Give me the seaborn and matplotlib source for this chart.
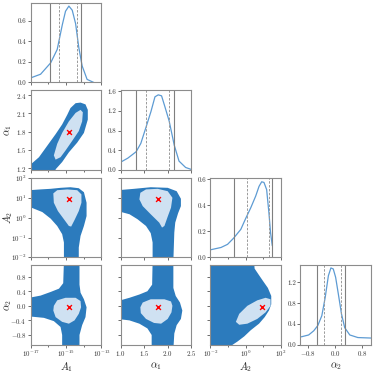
import numpy as np
import seaborn as sns
import matplotlib
matplotlib.use("Agg")
from matplotlib import pyplot as plt
from matplotlib import ticker

sns.set_style("ticks")
plt.rcParams.update({
    'font.family': 'serif',
    'font.serif': ['cmr10', 'DejaVu Serif'],
    'mathtext.fontset': 'cm',
    'axes.formatter.use_mathtext': True,
    'font.size': 5.5,
})

# parameter names and axis ranges (log10 for A1, A2)
labels = [r'$A_1$', r'$\alpha_1$', r'$A_2$', r'$\alpha_2$']
is_log = [True, False, True, False]
x_lims = [(-17, -13), (1.0, 2.5), (-2, 2), (-1.03, 1.07)]
row_lims = [None, (1.17, 2.48), (-2, 2), (-1.07, 1.11)]

# best fit (red cross)
best = [-14.84, 1.80, 0.92, -0.04]

# 1D marginals
a1_x = [-16.96, -16.44, -15.87, -15.50, -15.21, -15.03, -14.84, -14.65, -14.46, -14.28, -14.09, -13.81, -13.43]
a1_y = [0.047, 0.08, 0.19, 0.32, 0.56, 0.69, 0.74, 0.70, 0.57, 0.34, 0.16, 0.03, 0.0]
al1_x = [1.0, 1.154, 1.33, 1.43, 1.54, 1.645, 1.73, 1.80, 1.87, 1.94, 2.03, 2.14, 2.24, 2.38, 2.5]
al1_y = [0.157, 0.24, 0.37, 0.54, 0.87, 1.19, 1.49, 1.53, 1.51, 1.29, 1.0, 0.50, 0.18, 0.05, 0.01]
a2_x = [-2.0, -1.40, -1.03, -0.69, -0.28, 0.0, 0.28, 0.56, 0.75, 0.90, 1.03, 1.18, 1.31, 1.40, 1.50]
a2_y = [0.058, 0.076, 0.10, 0.147, 0.215, 0.30, 0.38, 0.47, 0.545, 0.58, 0.575, 0.52, 0.34, 0.19, 0.089]
al2_x = [-1.0, -0.78, -0.63, -0.51, -0.39, -0.29, -0.195, -0.12, -0.05, 0.02, 0.10, 0.195, 0.29, 0.44, 0.68, 1.09]
al2_y = [0.154, 0.19, 0.27, 0.37, 0.56, 0.91, 1.33, 1.48, 1.46, 1.30, 0.98, 0.59, 0.33, 0.19, 0.14, 0.13]
diag_ylim = [0.77, 1.62, 0.61, 1.53]
diag_yticks = [[0.0, 0.2, 0.4, 0.6], [0.0, 0.4, 0.8, 1.2, 1.6], [0.0, 0.2, 0.4, 0.6], [0.0, 0.4, 0.8, 1.2]]
# interval lines: outer (solid), inner (dashed)
outer_lines = [(-15.91, -14.13), (1.336, 2.13), (-0.69, 1.46), (-0.54, 0.29)]
inner_lines = [(-15.40, -14.37), (1.54, 2.02), (0.09, 1.33), (-0.32, 0.17)]

# 2D regions, (x, y) boundaries
a1_al1_outer = [(-17.04, 1.11), (-15.59, 1.11), (-15.59, 1.18), (-15.22, 1.30), (-14.84, 1.46), (-14.37, 1.62),
                (-13.99, 1.78), (-13.77, 2.00), (-13.77, 2.16), (-13.90, 2.25), (-14.18, 2.28), (-14.46, 2.27),
                (-14.75, 2.19), (-14.93, 2.08), (-15.22, 1.92), (-15.59, 1.76), (-16.06, 1.57), (-16.53, 1.38),
                (-17.04, 1.25)]
a1_al1_inner = [(-15.59, 1.34), (-15.69, 1.41), (-15.50, 1.60), (-15.22, 1.78), (-14.84, 1.97), (-14.46, 2.11),
                (-14.18, 2.16), (-14.05, 2.12), (-14.09, 1.97), (-14.28, 1.81), (-14.65, 1.65), (-15.03, 1.49),
                (-15.31, 1.38)]
a1_a2_outer = [(-17.09, 1.38), (-16.44, 1.42), (-15.87, 1.45), (-15.31, 1.50), (-14.75, 1.53), (-14.28, 1.48),
               (-13.99, 1.28), (-13.84, 0.75), (-13.84, 0.08), (-13.99, -0.42), (-14.18, -0.92), (-14.28, -1.50),
               (-14.28, -2.17), (-15.12, -2.17), (-15.12, -1.25), (-15.22, -0.83), (-15.50, -0.42),
               (-15.87, -0.05), (-16.34, 0.28), (-17.09, 0.55)]
a1_a2_inner = [(-15.72, 1.22), (-15.50, 1.38), (-14.93, 1.42), (-14.37, 1.38), (-14.13, 1.17), (-14.13, 0.75),
               (-14.28, 0.33), (-14.52, -0.12), (-14.71, -0.45), (-14.84, -0.42), (-15.12, -0.08),
               (-15.46, 0.33), (-15.69, 0.75)]
a1_al2_outer = [(-15.12, 1.20), (-14.24, 1.20), (-14.24, 0.58), (-14.18, 0.36), (-13.99, 0.18), (-13.84, -0.04),
                (-13.90, -0.31), (-14.09, -0.53), (-14.24, -0.80), (-14.24, -1.20), (-15.22, -1.20),
                (-15.22, -0.80), (-15.31, -0.58), (-15.69, -0.42), (-16.25, -0.33), (-17.09, -0.29),
                (-17.09, 0.22), (-16.44, 0.28), (-15.87, 0.38), (-15.40, 0.47), (-15.16, 0.62)]
a1_al2_inner = [(-15.69, 0.0), (-15.50, 0.15), (-15.03, 0.22), (-14.46, 0.22), (-14.18, 0.13), (-14.15, -0.04),
                (-14.28, -0.22), (-14.52, -0.40), (-14.84, -0.49), (-15.22, -0.44), (-15.59, -0.31),
                (-15.72, -0.13)]
al1_a2_outer = [(0.94, 1.38), (1.29, 1.45), (1.64, 1.53), (2.00, 1.50), (2.19, 1.33), (2.28, 0.95), (2.28, 0.58),
                (2.22, 0.22), (2.16, -0.25), (2.14, -0.75), (2.12, -2.17), (1.68, -2.17), (1.68, -1.25),
                (1.64, -0.78), (1.54, -0.42), (1.36, -0.08), (1.19, 0.17), (0.94, 0.33)]
al1_a2_inner = [(1.42, 1.25), (1.54, 1.42), (1.79, 1.45), (2.00, 1.33), (2.10, 1.0), (2.07, 0.50), (2.00, 0.05),
                (1.93, -0.42), (1.88, -0.50), (1.82, -0.25), (1.64, 0.17), (1.47, 0.58), (1.40, 0.92)]
al1_al2_outer = [(1.68, 1.20), (2.12, 1.20), (2.12, 0.49), (2.17, 0.27), (2.26, 0.09), (2.31, -0.13),
                 (2.28, -0.36), (2.19, -0.53), (2.14, -0.76), (2.12, -1.20), (1.66, -1.20), (1.66, -0.80),
                 (1.57, -0.62), (1.40, -0.49), (1.19, -0.40), (0.94, -0.36), (0.94, 0.13), (1.19, 0.22),
                 (1.40, 0.31), (1.57, 0.40), (1.67, 0.58)]
al1_al2_inner = [(1.42, -0.04), (1.47, 0.09), (1.64, 0.18), (1.93, 0.18), (2.07, 0.12), (2.10, 0.0),
                 (2.08, -0.18), (2.00, -0.36), (1.86, -0.49), (1.71, -0.47), (1.54, -0.36), (1.43, -0.20)]
a2_al2_outer = [(-2.15, 1.20), (0.47, 1.20), (0.50, 1.02), (0.75, 0.84), (0.99, 0.67), (1.25, 0.49),
                (1.44, 0.27), (1.44, 0.04), (1.31, -0.13), (1.07, -0.31), (0.75, -0.49), (0.28, -0.67),
                (-0.09, -0.84), (-0.47, -0.98), (-0.75, -1.07), (-0.75, -1.20), (-2.15, -1.20)]
a2_al2_inner = [(-0.56, -0.44), (-0.37, -0.22), (0.09, 0.0), (0.65, 0.15), (1.12, 0.22), (1.40, 0.18),
                (1.40, 0.0), (1.12, -0.18), (0.65, -0.36), (0.09, -0.49), (-0.37, -0.52)]

regions = {(1, 0): (a1_al1_outer, a1_al1_inner), (2, 0): (a1_a2_outer, a1_a2_inner),
           (3, 0): (a1_al2_outer, a1_al2_inner), (2, 1): (al1_a2_outer, al1_a2_inner),
           (3, 1): (al1_al2_outer, al1_al2_inner), (3, 2): (a2_al2_outer, a2_al2_inner)}
diag = [(a1_x, a1_y), (al1_x, al1_y), (a2_x, a2_y), (al2_x, al2_y)]

dark = '#2c7bbd'
light = '#cfe1f2'
line_col = '#5d9bd3'
spine_col = '#8c8c8c'


def val(v, log):
    return 10.0 ** np.asarray(v) if log else np.asarray(v)


def set_ticks(ax, axis, i):
    set_scale = ax.set_xscale if axis == 'x' else ax.set_yscale
    a = ax.xaxis if axis == 'x' else ax.yaxis
    if i == 0:
        set_scale('log')
        a.set_major_locator(ticker.FixedLocator([1e-17, 1e-15, 1e-13]))
        a.set_minor_locator(ticker.FixedLocator([1e-16, 1e-14]))
    elif i == 2:
        set_scale('log')
        if axis == 'x':
            a.set_major_locator(ticker.FixedLocator([1e-2, 1e0, 1e2]))
            a.set_minor_locator(ticker.FixedLocator([1e-1, 1e1]))
        else:
            a.set_major_locator(ticker.FixedLocator([1e-2, 1e-1, 1e0, 1e1, 1e2]))
            a.set_minor_locator(ticker.NullLocator())
    elif i == 1:
        if axis == 'x':
            a.set_major_locator(ticker.FixedLocator([1.0, 1.5, 2.0, 2.5]))
        else:
            a.set_major_locator(ticker.FixedLocator([1.2, 1.5, 1.8, 2.1, 2.4]))
    else:
        if axis == 'x':
            a.set_major_locator(ticker.FixedLocator([-0.8, 0.0, 0.8]))
        else:
            a.set_major_locator(ticker.FixedLocator([-0.8, -0.4, 0.0, 0.4, 0.8]))
    a.set_minor_formatter(ticker.NullFormatter())


fig, axes = plt.subplots(4, 4, figsize=(3.74, 3.74), dpi=100)
fig.subplots_adjust(left=0.082, right=0.992, bottom=0.078, top=0.992, wspace=0.27, hspace=0.1)

for r in range(4):
    for c in range(4):
        ax = axes[r, c]
        if c > r:
            ax.axis('off')
            continue
        for s in ax.spines.values():
            s.set_color(spine_col)
            s.set_linewidth(0.8)
        ax.tick_params(which='both', colors='#333333', length=2, width=0.5, pad=1.0,
                       labelsize=5)
        ax.tick_params(which='minor', length=1.2)
        set_ticks(ax, 'x', c)
        if r == c:
            xs, ys = diag[c]
            sns.lineplot(x=val(xs, is_log[c]), y=ys, ax=ax, color=line_col, linewidth=0.9)
            for v in outer_lines[c]:
                ax.axvline(val(v, is_log[c]), color='#7f7f7f', lw=0.8)
            for v in inner_lines[c]:
                ax.axvline(val(v, is_log[c]), color='#9a9a9a', lw=0.7, ls=(0, (2.5, 1.5)))
            ax.set_ylim(0, diag_ylim[c])
            ax.yaxis.set_major_locator(ticker.FixedLocator(diag_yticks[c]))
            ax.yaxis.set_major_formatter(ticker.FormatStrFormatter('%.1f'))
        else:
            outer, inner = regions[(r, c)]
            ox, oy = zip(*outer)
            ix, iy = zip(*inner)
            ax.fill(val(ox, is_log[c]), val(oy, is_log[r]), color=dark, lw=0)
            ax.fill(val(ix, is_log[c]), val(iy, is_log[r]), color=light, lw=0)
            sns.scatterplot(x=val([best[c]], is_log[c]), y=val([best[r]], is_log[r]), ax=ax,
                            marker='x', color='red', s=12, linewidth=1.0, zorder=5)
            set_ticks(ax, 'y', r)
            ax.set_ylim(val(row_lims[r], is_log[r]))
            if c > 0:
                ax.tick_params(axis='y', which='both', labelleft=False)
            else:
                ax.set_ylabel(labels[r], fontsize=7.5, va='center', ha='center')
                ax.yaxis.set_label_coords(-0.32, 0.5)
        ax.set_xlim(val(x_lims[c], is_log[c]))
        if r < 3:
            ax.tick_params(axis='x', which='both', labelbottom=False)
        else:
            ax.set_xlabel(labels[c], fontsize=7.5, va='top', ha='center')
            ax.xaxis.set_label_coords(0.5, -0.19)

fig.savefig('out.png', dpi=100)
